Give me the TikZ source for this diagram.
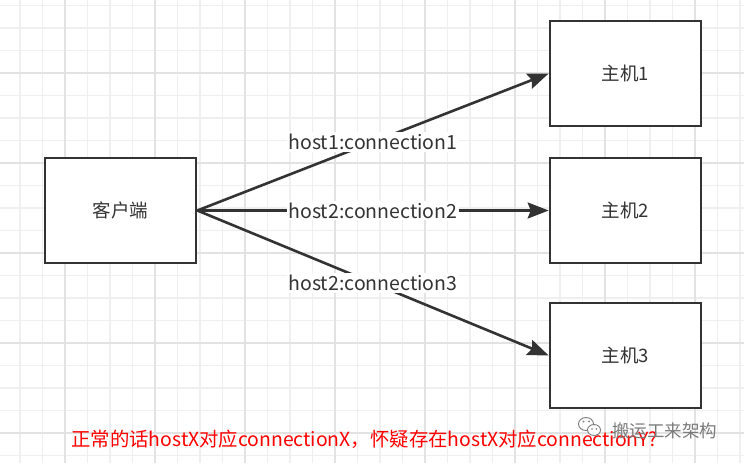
\documentclass[tikz,border=0pt]{standalone}
\usepackage{fontspec}
\setmainfont{Noto Sans CJK SC}
\usetikzlibrary{arrows.meta}
\definecolor{gridminor}{HTML}{EFEFEF}
\definecolor{gridmajor}{HTML}{E2E2E2}
\definecolor{ink}{HTML}{333333}
\definecolor{wm}{HTML}{7A7A7A}
\tikzset{
  box/.style={draw=ink, line width=2.6pt, fill=white, minimum width=151pt, minimum height=105pt, inner sep=0pt, text=ink, font=\fontsize{18.5}{20}\selectfont},
  conn/.style={draw=ink, line width=2.6pt, -{Stealth[length=21pt, width=16pt, inset=3pt]}},
  lbl/.style={fill=white, inner sep=2pt, text=ink, font=\fontsize{19.5}{21}\selectfont},
}
\begin{document}
\begin{tikzpicture}[x=1pt, y=-1pt]
\useasboundingbox (0,0) rectangle (744,463);
\fill[white] (0,0) rectangle (744,463);
% grid
\foreach \i in {-1,...,33} {
  \draw[gridminor, line width=1.1pt] ({20+22.5*\i},0) -- ({20+22.5*\i},463);
}
\foreach \i in {0,...,21} {
  \draw[gridminor, line width=1.1pt] (0,{5.5+22.5*\i}) -- (744,{5.5+22.5*\i});
}
\foreach \i in {0,...,8} {
  \draw[gridmajor, line width=1.2pt] ({65+90*\i},0) -- ({65+90*\i},463);
}
\foreach \i in {0,...,5} {
  \draw[gridmajor, line width=1.2pt] (0,{73+90*\i}) -- (744,{73+90*\i});
}
% boxes
\node[box] (client) at (120.5,210.5) {客户端};
\node[box] (h1) at (625.5,73.5) {主机1};
\node[box] (h2) at (625.5,210.5) {主机2};
\node[box] (h3) at (625.5,355.5) {主机3};
% connectors
\draw[conn] (client.east) -- node[lbl] {host1:connection1} (h1.west);
\draw[conn] (client.east) -- node[lbl] {host2:connection2} (h2.west);
\draw[conn] (client.east) -- node[lbl] {host2:connection3} (h3.west);
% note
\node[anchor=west, text=red, font=\fontsize{19.4}{21}\selectfont, inner sep=0pt] (note) at (71,439) {正常的话hostX对应connectionX，怀疑存在hostX对应connectionY?};
% watermark
\begin{scope}[draw=wm, line width=0.9pt]
  \draw (586,424) ellipse (7.5 and 6.5);
  \fill[white] (594,430) ellipse (6.5 and 5.5);
  \draw (594,430) ellipse (6.5 and 5.5);
  \fill[wm] (583.5,421.5) circle (1);
  \fill[wm] (589,421.5) circle (1);
  \fill[wm] (592,429) circle (0.8);
  \fill[wm] (596.5,429) circle (0.8);
\end{scope}
\node[anchor=west, text=wm, font=\fontsize{17.5}{19}\selectfont, inner sep=0pt] (wmtext) at (612,431) {搬运工来架构};
\end{tikzpicture}
\end{document}
